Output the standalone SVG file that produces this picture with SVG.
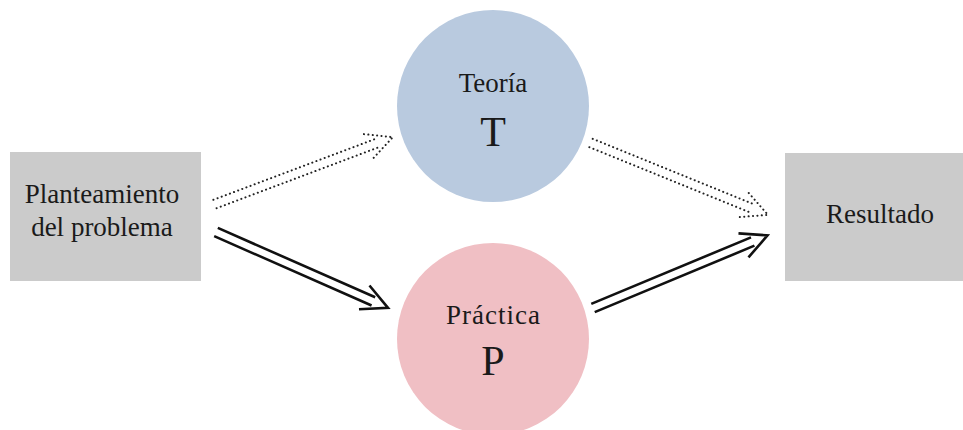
<svg xmlns="http://www.w3.org/2000/svg" width="963" height="430" viewBox="0 0 963 430">
<style>
.box{fill:#cbcbcb}
.txt{font-family:"Liberation Serif","Times New Roman",serif;fill:#1a1a1a;text-anchor:middle}
.lbl{font-size:27px}
.big{font-size:42px}
.solid{fill:none;stroke:#111;stroke-width:2.6;stroke-linecap:butt}
.dot{fill:none;stroke:#222;stroke-width:2;stroke-linecap:round;stroke-dasharray:0.1 4.3}
</style>
<rect width="963" height="430" fill="#fff"/>
<g id="planteamiento">
<rect class="box" x="10" y="152" width="191" height="129"/>
<text class="txt lbl" x="102" y="203">Planteamiento</text>
<text class="txt lbl" x="102" y="236">del problema</text>
</g>
<g id="teoria">
<circle cx="493" cy="106" r="96" fill="#b9cadf"/>
<text class="txt lbl" x="493" y="92">Teoría</text>
<text class="txt big" x="493" y="146">T</text>
</g>
<g id="practica">
<circle cx="493" cy="339" r="96" fill="#f0bfc4"/>
<text class="txt lbl" x="493" y="324" textLength="94" lengthAdjust="spacing">Práctica</text>
<text class="txt big" x="493" y="375">P</text>
</g>
<g id="resultado">
<rect class="box" x="785" y="153" width="178" height="128"/>
<text class="txt lbl" x="880" y="223">Resultado</text>
</g>
<g id="connectors">
<path class="dot" transform="translate(215,204) rotate(-20.6)" d="M0,-4.5 H173 M0,4.5 H173 M164,-13 L190,0 L164,13"/>
<path class="solid" transform="translate(216,232) rotate(23.8)" d="M0,-4.5 H172 M0,4.5 H172 M162,-13 L188,0 L162,13"/>
<path class="dot" transform="translate(591,143) rotate(22.1)" d="M0,-4.5 H174 M0,4.5 H174 M165,-13 L191,0 L165,13"/>
<path class="solid" transform="translate(593,308) rotate(-22.6)" d="M0,-4.5 H173 M0,4.5 H173 M163,-13 L189,0 L163,13"/>
</g>
</svg>
